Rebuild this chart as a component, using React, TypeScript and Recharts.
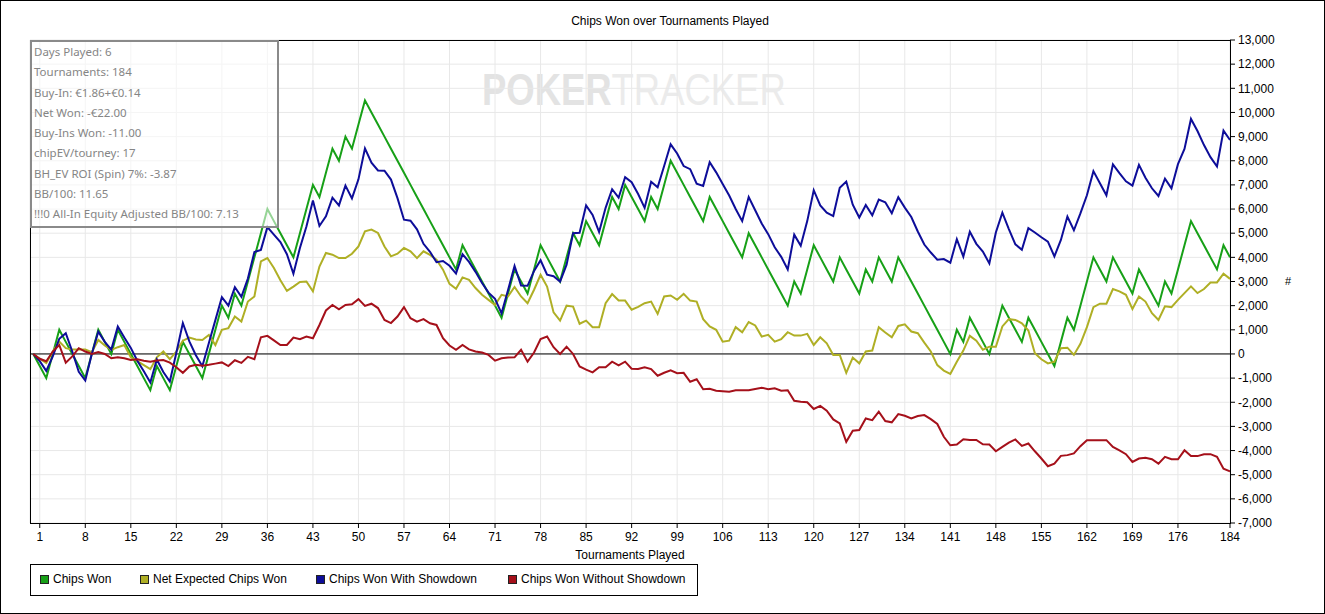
import React from 'react';
import { LineChart, Line, XAxis, YAxis, CartesianGrid, ReferenceLine } from 'recharts';

// cumulative chips after each tournament (index 0 = start)
const chipsWon = [
    0, -500, -1000, 0, 1000, 500, 0, -500, -1000, 0,
    1000, 500, 0, 1000, 500, 0, -500, -1000, -1500, -500,
    -1000, -1500, -500, 500, 0, -500, -1000, 0, 1000, 2000,
    1500, 2500, 2000, 3000, 4000, 5000, 6000, 5500, 5000, 4500,
    4000, 5000, 6000, 7000, 6500, 7500, 8500, 8000, 9000, 8500,
    9500, 10500, 10000, 9500, 9000, 8500, 8000, 7500, 7000, 6500,
    6000, 5500, 5000, 4500, 4000, 3500, 4500, 4000, 3500, 3000,
    2500, 2000, 1500, 2500, 3500, 3000, 2500, 3500, 4500, 4000,
    3500, 3000, 4000, 5000, 4500, 5500, 5000, 4500, 5500, 6500,
    6000, 7000, 6500, 6000, 5500, 6500, 6000, 7000, 8000, 7500,
    7000, 6500, 6000, 5500, 6500, 6000, 5500, 5000, 4500, 4000,
    5000, 4500, 4000, 3500, 3000, 2500, 2000, 3000, 2500, 3500,
    4500, 4000, 3500, 3000, 4000, 3500, 3000, 2500, 3500, 3000,
    4000, 3500, 3000, 4000, 3500, 3000, 2500, 2000, 1500, 1000,
    500, 0, 1000, 500, 1500, 1000, 500, 0, 1000, 2000,
    1500, 1000, 500, 1500, 1000, 500, 0, -500, 500, 1500,
    1000, 2000, 3000, 4000, 3500, 3000, 4000, 3500, 3000, 2500,
    3500, 3000, 2500, 2000, 3000, 2500, 3500, 4500, 5500, 5000,
    4500, 4000, 3500, 4500, 4000,
];

const netExpected = [
    0, -200, -380, 100, 510, 240, 180, 180, 180, 70,
    580, 350, 170, 280, 370, -140, -300, -460, -630, -140,
    100, -220, 100, 550, 680, 600, 580, 790, 370, 1000,
    1070, 1550, 1340, 2170, 2380, 3830, 3970, 3560, 3050, 2610,
    2790, 2980, 3000, 2590, 3620, 4180, 4110, 3970, 3970, 4150,
    4450, 5080, 5150, 5010, 4450, 4040, 4150, 4390, 4250, 3970,
    4250, 4100, 3900, 3490, 2900, 2700, 3170, 3070, 2730, 2450,
    2240, 2030, 2450, 2380, 2770, 2380, 2100, 2660, 3280, 2790,
    1720, 1380, 2000, 1960, 1250, 1380, 1110, 1110, 2100, 2480,
    2210, 2210, 1830, 1950, 2100, 2170, 1660, 2380, 2420, 2240,
    2490, 2210, 2170, 1440, 1140, 1000, 510, 550, 1110, 900,
    1320, 1180, 720, 790, 510, 610, 900, 760, 760, 830,
    370, 690, 440, -40, -40, -780, -150, -390, 100, 140,
    1110, 890, 690, 1160, 1230, 930, 860, 470, 100, -460,
    -690, -830, -320, 140, 750, 550, 170, 300, 300, 1140,
    1440, 1410, 1270, 970, 30, -220, -390, -320, 240, 260,
    -40, 420, 1110, 1940, 2080, 2080, 2690, 2590, 2450, 1860,
    2380, 2170, 1690, 1410, 1970, 1940, 2240, 2520, 2800, 2520,
    2690, 2960, 2960, 3320, 3110,
];

const withShowdown = [
    0, -300, -700, -100, 630, 860, 100, -740, -1100, 0,
    920, 500, 180, 1140, 680, 250, -280, -720, -1180, -230,
    -750, -1140, 50, 1280, 520, -50, -510, 450, 1400, 2350,
    2000, 2760, 2370, 3120, 4220, 4310, 5250, 4940, 4630, 4130,
    3320, 4390, 5280, 6350, 5300, 5700, 6470, 6150, 6970, 6440,
    7230, 8510, 7920, 7600, 7590, 7220, 6450, 5560, 5520, 5160,
    4560, 4230, 3800, 3850, 3650, 3330, 4130, 3810, 3400, 2940,
    2540, 2280, 1680, 2650, 3640, 2830, 2820, 3440, 3880, 3280,
    3220, 3000, 3700, 5000, 5020, 6150, 5760, 5050, 6050, 6820,
    6470, 7320, 7110, 6620, 6050, 7130, 6900, 7780, 8680, 8300,
    7780, 7650, 7050, 6960, 7940, 7520, 7040, 6560, 6000, 5500,
    6500, 5950, 5400, 4960, 4420, 4020, 3500, 4940, 4480, 5500,
    6780, 6150, 5850, 5710, 6880, 7140, 6180, 5650, 6170, 5740,
    6390, 6280, 5830, 6490, 6060, 5670, 5070, 4530, 4200, 3900,
    3930, 3780, 4750, 4030, 5060, 4560, 4240, 3750, 5030, 5850,
    5170, 4540, 4310, 5210, 5030, 4830, 4650, 4040, 4720, 5690,
    5120, 5820, 6570, 7570, 7070, 6570, 7850, 7490, 7150, 6970,
    7830, 7300, 6860, 6540, 7260, 6860, 7860, 8490, 9730, 9230,
    8650, 8150, 7760, 9250, 8860,
];

const withoutShowdown = [
    0, -200, -300, 100, 370, -360, -100, 240, 100, 0,
    80, 0, -180, -140, -180, -250, -220, -280, -320, -270,
    -250, -360, -550, -780, -520, -450, -490, -450, -400, -350,
    -500, -260, -370, -120, -220, 690, 750, 560, 370, 370,
    680, 610, 720, 650, 1200, 1800, 2030, 1850, 2030, 2060,
    2270, 1990, 2080, 1900, 1410, 1280, 1550, 1940, 1480, 1340,
    1440, 1270, 1200, 650, 350, 170, 370, 190, 100, 60,
    -40, -280, -180, -150, -140, 170, -320, 60, 620, 720,
    280, 0, 300, 0, -520, -650, -760, -550, -550, -320,
    -470, -320, -610, -620, -550, -630, -900, -780, -680, -800,
    -780, -1150, -1050, -1460, -1440, -1520, -1540, -1560, -1500, -1500,
    -1500, -1450, -1400, -1460, -1420, -1520, -1500, -1940, -1980, -2000,
    -2280, -2150, -2350, -2710, -2880, -3640, -3180, -3150, -2670, -2740,
    -2390, -2780, -2830, -2490, -2560, -2670, -2570, -2530, -2700, -2900,
    -3430, -3780, -3750, -3530, -3560, -3560, -3740, -3750, -4030, -3850,
    -3670, -3540, -3810, -3710, -4030, -4330, -4650, -4540, -4220, -4190,
    -4120, -3820, -3570, -3570, -3570, -3570, -3850, -3990, -4150, -4470,
    -4330, -4300, -4360, -4540, -4260, -4360, -4360, -3990, -4230, -4230,
    -4150, -4150, -4260, -4750, -4860,
];

const tournaments = chipsWon.map((_, i) => i);

const xTicks = [1, 8, 15, 22, 29, 36, 43, 50, 57, 64, 71, 78, 85, 92, 99, 106, 113, 120, 127, 134, 141, 148, 155, 162, 169, 176, 184];
const yTicks = [-7000, -6000, -5000, -4000, -3000, -2000, -1000, 0, 1000, 2000, 3000, 4000, 5000, 6000, 7000, 8000, 9000, 10000, 11000, 12000, 13000];

const infoLines = [
    'Days Played: 6',
    'Tournaments: 184',
    'Buy-In: €1.86+€0.14',
    'Net Won: -€22.00',
    'Buy-Ins Won: -11.00',
    'chipEV/tourney: 17',
    'BH_EV ROI (Spin) 7%: -3.87',
    'BB/100: 11.65',
    '!!!0 All-In Equity Adjusted BB/100: 7.13',
];

const series = [
    { key: 'chipsWon', name: 'Chips Won', color: '#17a017', legendX: 40 },
    { key: 'netExpected', name: 'Net Expected Chips Won', color: '#afaf25', legendX: 140 },
    { key: 'withShowdown', name: 'Chips Won With Showdown', color: '#0d0d99', legendX: 316 },
    { key: 'withoutShowdown', name: 'Chips Won Without Showdown', color: '#a5101a', legendX: 508 },
];

const data = tournaments.map((t, i) => ({
    t,
    chipsWon: chipsWon[i],
    netExpected: netExpected[i],
    withShowdown: withShowdown[i],
    withoutShowdown: withoutShowdown[i],
}));

const FONT = '"Liberation Sans", Arial, sans-serif';
const fmt = (v: number) => v.toLocaleString('en-US');

export default function App() {
    return (
        <div
            style={{
                position: 'absolute',
                left: 0,
                top: 0,
                width: 1325,
                height: 614,
                background: '#fff',
                fontFamily: FONT,
                overflow: 'hidden',
            }}
        >
            {/* watermark */}
            <svg style={{ position: 'absolute', left: 482, top: 50 }} width={420} height={72}>
                <text x={0} y={55} fontSize={45} fontFamily={FONT} transform='scale(0.81,1)'>
                    <tspan fontWeight={700} fill='#e3e3e3'>POKER</tspan>
                    <tspan fill='#ebebeb'>TRACKER</tspan>
                </text>
            </svg>

            <div style={{ position: 'absolute', left: 0, top: 0 }}>
                <LineChart
                    width={1325}
                    height={614}
                    data={data}
                    margin={{ top: 40, left: 30, right: 35, bottom: 55 }}
                    style={{ fontFamily: FONT }}
                >
                    <CartesianGrid stroke='#e8e8e8' />
                    <XAxis
                        dataKey='t'
                        type='number'
                        domain={[-0.5, 184]}
                        ticks={xTicks}
                        interval={0}
                        height={36}
                        axisLine={false}
                        tickSize={5}
                        tickMargin={4}
                        tickLine={{ stroke: '#000' }}
                        tick={{ fill: '#000', fontSize: 12 }}
                        label={{ value: 'Tournaments Played', position: 'insideBottom', offset: 0, fill: '#000', fontSize: 12 }}
                    />
                    <YAxis
                        orientation='right'
                        type='number'
                        domain={[-7000, 13000]}
                        ticks={yTicks}
                        interval={0}
                        width={60}
                        axisLine={false}
                        tickSize={5}
                        tickMargin={3}
                        tickLine={{ stroke: '#000' }}
                        tick={{ fill: '#000', fontSize: 12, textAnchor: 'start' }}
                        tickFormatter={fmt}
                        label={{ value: '#', position: 'right', offset: -5, fill: '#000', fontSize: 11 }}
                    />
                    <ReferenceLine y={0} stroke='#000' strokeWidth={1} />
                    {series.map(s => (
                        <Line
                            key={s.key}
                            type='linear'
                            dataKey={s.key}
                            name={s.name}
                            stroke={s.color}
                            strokeWidth={2}
                            dot={false}
                            activeDot={false}
                            isAnimationActive={false}
                        />
                    ))}
                </LineChart>
            </div>

            {/* plot frame */}
            <div
                style={{
                    position: 'absolute',
                    left: 30,
                    top: 40,
                    width: 1201,
                    height: 484,
                    border: '1px solid #000',
                    boxSizing: 'border-box',
                    pointerEvents: 'none',
                }}
            />

            <div
                style={{
                    position: 'absolute',
                    left: 670,
                    top: 14,
                    transform: 'translateX(-50%)',
                    fontSize: 12,
                    whiteSpace: 'nowrap',
                    color: '#000',
                }}
            >
                Chips Won over Tournaments Played
            </div>

            {/* stats box */}
            <div
                style={{
                    position: 'absolute',
                    left: 30,
                    top: 40,
                    width: 249,
                    height: 188,
                    background: 'rgba(255,255,255,0.55)',
                    border: '2px solid #8a8a8a',
                    boxSizing: 'border-box',
                    fontFamily: '"Noto Sans", "Open Sans", sans-serif',
                    fontSize: 11.5,
                    color: '#858585',
                    paddingLeft: 2,
                    paddingTop: 0,
                }}
            >
                {infoLines.map(line => (
                    <div key={line} style={{ height: 20.25, lineHeight: '20.25px', whiteSpace: 'nowrap' }}>
                        {line}
                    </div>
                ))}
            </div>

            {/* legend */}
            <div
                style={{
                    position: 'absolute',
                    left: 30,
                    top: 564,
                    width: 668,
                    height: 32,
                    border: '1px solid #000',
                    boxSizing: 'border-box',
                }}
            >
                {series.map(s => (
                    <div key={s.key}>
                        <div
                            style={{
                                position: 'absolute',
                                left: s.legendX - 31,
                                top: 10,
                                width: 9,
                                height: 9,
                                background: s.color,
                                border: '1px solid #222',
                                boxSizing: 'border-box',
                            }}
                        />
                        <div
                            style={{
                                position: 'absolute',
                                left: s.legendX - 18,
                                top: 7,
                                fontSize: 12,
                                lineHeight: '15px',
                                whiteSpace: 'nowrap',
                                color: '#000',
                            }}
                        >
                            {s.name}
                        </div>
                    </div>
                ))}
            </div>

            {/* outer frame */}
            <div
                style={{
                    position: 'absolute',
                    inset: 0,
                    border: '1px solid #000',
                    pointerEvents: 'none',
                }}
            />
        </div>
    );
}
